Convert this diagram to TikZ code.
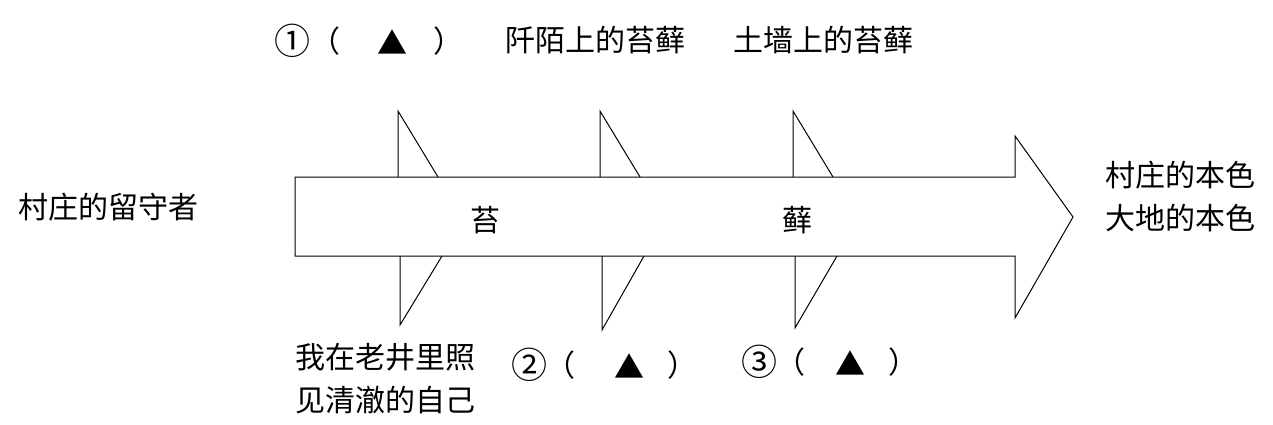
\documentclass[tikz,border=0pt]{standalone}
\usepackage{fontspec}
\setmainfont{Noto Sans CJK SC}
\begin{document}
\begin{tikzpicture}[x=1pt,y=-1pt,
  lbl/.style={font=\fontsize{30}{43}\selectfont,inner sep=0pt},
  ln/.style={draw=black,line width=1pt}]
\useasboundingbox (0,0) rectangle (1273,424);
\draw[ln] (295,177) -- (1015,177) -- (1015,136) -- (1073,217) -- (1015,318) -- (1015,256) -- (295,256) -- cycle;
\foreach \x/\bx/\bl in {398/400/325,600/602/330,793/795/328}{
  \draw[ln] (\x,177) -- (\x,111) -- (\x+40,177);
  \draw[ln] (\bx,256) -- (\bx,\bl) -- (\bx+42,256);
}
\node[lbl,font=\fontsize{36}{40}\selectfont] (c1) at (292,41) {①};
\node[lbl] (p1) at (325,41) {（};
\node[lbl] (t1) at (392,42) {▲};
\node[lbl] (q1) at (448,41) {）};
\node[lbl,anchor=west] (top) at (505,40) {阡陌上的苔藓\hspace{1.6em}土墙上的苔藓};
\node[lbl,anchor=west] (left) at (18,207) {村庄的留守者};
\node[lbl] (m1) at (485,220) {苔};
\node[lbl] (m2) at (797,220) {藓};
\node[lbl,anchor=west,align=left] (right) at (1105,196) {村庄的本色\\大地的本色};
\node[lbl,anchor=west,align=left] (bot) at (295,379) {我在老井里照\\见清澈的自己};
\node[lbl,font=\fontsize{36}{40}\selectfont] (c2) at (529,365) {②};
\node[lbl] (p2) at (560,365) {（};
\node[lbl] (t2) at (629,366) {▲};
\node[lbl] (q2) at (682,365) {）};
\node[lbl,font=\fontsize{36}{40}\selectfont] (c3) at (759,362) {③};
\node[lbl] (p3) at (790,362) {（};
\node[lbl] (t3) at (850,363) {▲};
\node[lbl] (q3) at (903,362) {）};
\end{tikzpicture}
\end{document}
